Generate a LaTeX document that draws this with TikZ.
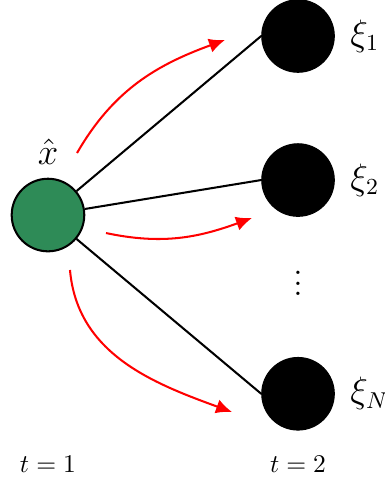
\documentclass[tikz,border=0pt]{standalone}
\usepackage{amsmath}
\usepackage{tikz}
\usetikzlibrary{arrows.meta,positioning,calc}
\definecolor{seagreen}{HTML}{2E8B57}

\begin{document}
\begin{tikzpicture}[
    root/.style={circle, draw=black, thick, fill=seagreen, minimum size=1cm, inner sep=0pt},
    scen/.style={circle, draw=black, fill=black, minimum size=1cm, inner sep=0pt},
    lbl/.style={font=\fontsize{13.5}{16}\selectfont},
    edge/.style={thick, black},
    flow/.style={-{Latex[length=2.2mm, width=2mm]}, thick, red}]
    \useasboundingbox (0,0) rectangle (5.303,6.598);
    \node[root] (x) at (0.661,3.636) {};
    \node[scen] (xi2) at (4.105,4.118) {};
    \node[scen, above=0.97cm of xi2] (xi1) {};
    \node[scen, below=1.93cm of xi2] (xiN) {};
    \node[lbl, above=0.6mm of x] (xlab) {$\hat{x}$};
    \node[lbl, right=0.9mm of xi1] (l1) {$\xi_1$};
    \node[lbl, right=0.9mm of xi2] (l2) {$\xi_2$};
    \node[lbl, right=0.9mm of xiN] (lN) {$\xi_N$};
    \node[lbl] (dots) at (4.105,2.80) {$\vdots$};
    \node (t1) at (0.661,0.2) {$t=1$};
    \node (t2) at (4.105,0.2) {$t=2$};
    \draw[edge] (x) -- (xi1.west);
    \draw[edge] (x) -- (xi2.west);
    \draw[edge] (x) -- (xiN.west);
    % red arrows
    \coordinate (a1s) at (1.061,4.490);
    \coordinate (a1e) at (3.099,6.047);
    \coordinate (a2s) at (1.460,3.388);
    \coordinate (a2e) at (3.471,3.595);
    \coordinate (a3s) at (0.964,2.879);
    \coordinate (a3e) at (3.196,0.923);
    \draw[flow] (a1s) to[out=60, in=200] (a1e);
    \draw[flow] (a2s) to[out=-12, in=200] (a2e);
    \draw[flow] (a3s) to[out=-85, in=160] (a3e);
  \end{tikzpicture}
\end{document}
